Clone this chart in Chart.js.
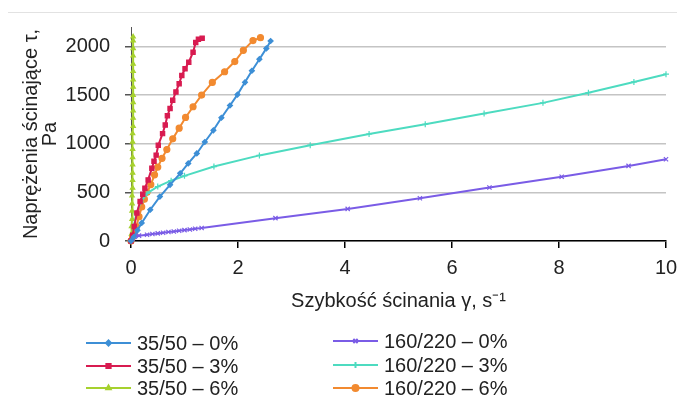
<!DOCTYPE html>
<html>
<head>
<meta charset="utf-8">
<script src="https://cdn.jsdelivr.net/npm/chart.js@4.4.0/dist/chart.umd.min.js"></script>
<style>
  body { margin: 0; background: #fff; }
  #wrap { position: relative; width: 677px; height: 399px; font-family: "Liberation Sans", Arial, sans-serif; }
  #topline { position: absolute; left: 8px; right: 0; top: 12px; height: 1px; background: #e2e2e2; }
  .leg { position: absolute; height: 22px; display: flex; align-items: center; font-size: 20px; color: #222; white-space: nowrap; }
  .leg canvas { margin-right: 6px; }
</style>
</head>
<body>
<div id="wrap">
  <div id="topline"></div>
  <canvas id="myChart" width="677" height="399"></canvas>
  <div id="legend"></div>
</div>
<script>
// series names and colours
const names = ['35/50 – 0%', '35/50 – 3%', '35/50 – 6%', '160/220 – 0%', '160/220 – 3%', '160/220 – 6%'];
const colors = ['#3d8fd6', '#d81b50', '#a6d12e', '#7a5ce6', '#4ddbc0', '#f28a30'];
const markers = ['rectRot', 'rect', 'triangle', 'crossRot', 'cross', 'circle'];

// axis ticks
const xTicks = [0, 2, 4, 6, 8, 10];
const yTicks = [0, 500, 1000, 1500, 2000];

// [shear rate, shear stress]
const b3550_0 = [[0,0],[0.05,40],[0.12,110],[0.2,186],[0.36,321],[0.54,457],[0.73,577],[0.92,696],[1.07,798],[1.23,900],[1.38,1018],[1.54,1138],[1.69,1267],[1.85,1393],[1.99,1505],[2.13,1631],[2.26,1750],[2.4,1869],[2.53,1980],[2.61,2056]];
const b3550_3 = [[0,0],[0.03,60],[0.06,150],[0.11,288],[0.17,406],[0.22,480],[0.26,543],[0.32,628],[0.39,747],[0.43,820],[0.47,883],[0.51,985],[0.59,1104],[0.64,1192],[0.68,1288],[0.73,1362],[0.78,1447],[0.84,1532],[0.9,1617],[0.95,1702],[1.01,1770],[1.08,1838],[1.16,1941],[1.21,2040],[1.26,2075],[1.33,2085]];
const b3550_6 = [[0,0],[0.01,70],[0.01,150],[0.02,225],[0.02,310],[0.02,385],[0.02,465],[0.03,545],[0.03,625],[0.03,700],[0.03,785],[0.03,860],[0.03,945],[0.03,1020],[0.03,1105],[0.04,1180],[0.04,1265],[0.04,1340],[0.04,1425],[0.04,1500],[0.04,1585],[0.04,1660],[0.04,1745],[0.04,1820],[0.04,1905],[0.04,1980],[0.04,2060],[0.04,2100]];
const b160_0 = [[0,0],[0.03,25],[0.07,45],[0.15,55],[0.3,65],[0.4,72],[0.5,78],[0.6,85],[0.7,92],[0.8,98],[0.9,105],[1.0,112],[1.1,118],[1.2,126],[1.32,134],[2.7,235],[4.05,330],[5.4,440],[6.7,550],[8.05,660],[9.3,772],[10,840]];
const b160_3 = [[0,0],[0.05,150],[0.1,280],[0.18,400],[0.3,490],[0.5,560],[0.75,620],[1.0,670],[1.55,765],[2.4,880],[3.35,985],[4.45,1100],[5.5,1200],[6.6,1310],[7.7,1420],[8.55,1525],[9.4,1635],[10,1715]];
const b160_6 = [[0,0],[0.03,40],[0.06,80],[0.1,150],[0.15,250],[0.2,350],[0.25,430],[0.3,500],[0.37,580],[0.44,680],[0.5,760],[0.58,850],[0.67,940],[0.78,1050],[0.9,1160],[1.02,1270],[1.16,1380],[1.32,1500],[1.52,1630],[1.75,1740],[1.94,1845],[2.1,1960],[2.28,2060],[2.42,2090]];

const series = [b3550_0, b3550_3, b3550_6, b160_0, b160_3, b160_6];
const radii = [2.5, 3, 2.5, 3, 3, 3];

Chart.defaults.font.family = '"Liberation Sans", Arial, sans-serif';
Chart.defaults.font.size = 20;
Chart.defaults.color = '#222';

const datasets = series.map((d, i) => ({
  label: names[i],
  data: d,
  borderColor: colors[i],
  backgroundColor: colors[i],
  pointStyle: markers[i],
  pointRadius: radii[i],
  pointBorderWidth: 1.2,
  borderWidth: 2,
  tension: 0,
  clip: false
}));

const config = {
  type: 'line',
  data: { datasets },
  options: {
    responsive: false,
    animation: false,
    layout: { padding: { left: 22, top: 27, right: 0, bottom: 82 } },
    plugins: { legend: { display: false }, tooltip: { enabled: false } },
    scales: {
      x: {
        type: 'linear', min: 0, max: 10,
        afterBuildTicks: s => { s.ticks = xTicks.map(v => ({ value: v })); },
        afterFit: s => { s.paddingRight = 11; },
        ticks: { padding: 8, callback: v => String(v) },
        grid: { drawOnChartArea: false, tickLength: 7, tickColor: '#000', lineWidth: 1.5 },
        border: { color: '#000', width: 1.5 },
        title: { display: true, text: 'Szybkość ścinania γ, s⁻¹', padding: { top: 1, bottom: 4 } }
      },
      y: {
        min: 0, max: 2200,
        afterBuildTicks: s => { s.ticks = yTicks.map(v => ({ value: v })); },
        afterFit: s => { s.width = 109; },
        ticks: { padding: 15, callback: v => String(v) },
        grid: { color: '#c4c4c4', lineWidth: 1.5, tickLength: 6, tickColor: '#555' },
        border: { color: '#555', width: 1 },
        title: { display: true, text: ['Naprężenia ścinające τ,', 'Pa'], padding: { top: 0, bottom: 8 }, font: { size: 20, lineHeight: 0.95 } }
      }
    }
  }
};

const myChart = new Chart(document.getElementById('myChart'), config);

// legend in two columns, like the original
const legPos = [[86, 332], [86, 355], [86, 377], [333, 330], [333, 354], [333, 377]];
const legend = document.getElementById('legend');
names.forEach((n, i) => {
  const item = document.createElement('div');
  item.className = 'leg';
  item.style.left = legPos[i][0] + 'px';
  item.style.top = legPos[i][1] + 'px';
  const c = document.createElement('canvas');
  c.width = 45; c.height = 14;
  const ctx = c.getContext('2d');
  ctx.strokeStyle = colors[i];
  ctx.lineWidth = 2;
  ctx.beginPath(); ctx.moveTo(0, 7); ctx.lineTo(45, 7); ctx.stroke();
  ctx.fillStyle = colors[i];
  Chart.helpers.drawPoint(ctx, { pointStyle: markers[i], radius: radii[i], borderWidth: 1.2, rotation: 0 }, 22.5, 7);
  item.appendChild(c);
  const t = document.createElement('span');
  t.textContent = n;
  item.appendChild(t);
  legend.appendChild(item);
});
</script>
</body>
</html>
